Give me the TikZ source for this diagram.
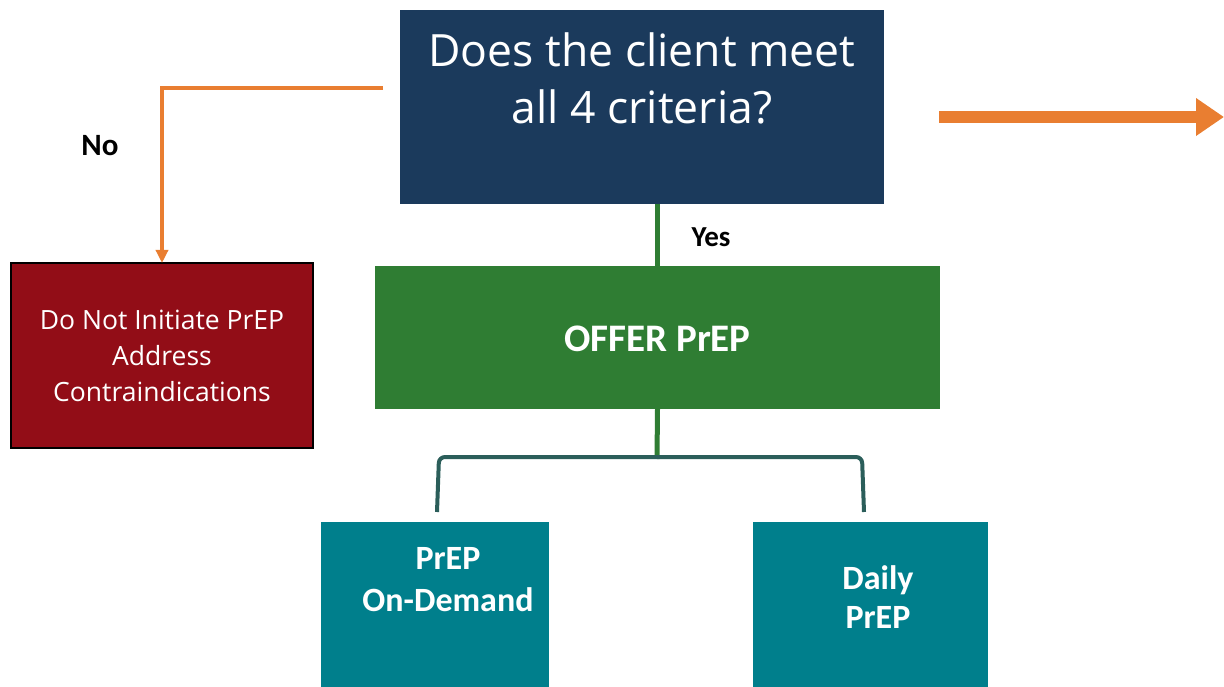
\documentclass[tikz,border=0pt]{standalone}
\usepackage{fontspec}
\setmainfont{Carlito}
\newfontfamily\opensans{Open Sans}
\usetikzlibrary{arrows.meta}
\definecolor{navy}{HTML}{1B3A5C}
\definecolor{orng}{HTML}{E97E31}
\definecolor{darkred}{HTML}{920D17}
\definecolor{grn}{HTML}{2F7D33}
\definecolor{tealbox}{HTML}{007F8C}
\definecolor{brk}{HTML}{2B5E5A}
\begin{document}
\begin{tikzpicture}[x=1pt,y=-1pt,
  boxshape/.style={inner sep=0pt, outer sep=0pt},
  wtext/.style={text=white, align=center, inner sep=0pt},
  lbl/.style={text=black, inner sep=0pt},
  orangeline/.style={draw=orng, line width=3.5pt},
  greenline/.style={draw=grn, line width=5pt},
  bracketline/.style={draw=brk, line width=4pt, rounded corners=6pt}]
\useasboundingbox (0,0) rectangle (1224,687);
\clip (0,0) rectangle (1224,687);
% boxes
\node[boxshape, fill=navy, minimum width=484pt, minimum height=194pt] (q) at (642,107) {};
\node[wtext, font=\opensans\fontsize{44.5}{57}\selectfont] (qt) at (642,78) {Does the client meet\\all 4 criteria?};
\node[boxshape, fill=darkred, draw=black, line width=1.5pt, minimum width=302pt, minimum height=185pt] (r) at (162,355.5) {};
\node[wtext, font=\opensans\fontsize{26.5}{36}\selectfont] (rt) at (162,356) {Do Not Initiate PrEP\\Address\\Contraindications};
\node[boxshape, fill=grn, minimum width=565pt, minimum height=143pt] (g) at (657.5,337.5) {};
\node[wtext, font=\fontsize{39}{42}\selectfont\bfseries] (gt) at (657.5,339) {OFFER PrEP};
\node[boxshape, fill=tealbox, minimum width=228pt, minimum height=200pt] (l) at (435,622) {};
\node[wtext, font=\fontsize{34}{42}\selectfont\bfseries] (lt) at (448,580) {PrEP\\On-Demand};
\node[boxshape, fill=tealbox, minimum width=235pt, minimum height=200pt] (d) at (870.5,622) {};
\node[wtext, font=\fontsize{34}{39}\selectfont\bfseries] (dt) at (878,597) {Daily\\PrEP};
% labels
\node[lbl, font=\fontsize{31}{34}\selectfont\bfseries] (no) at (100,146) {No};
\node[lbl, font=\fontsize{29}{32}\selectfont\bfseries] (yes) at (711,237) {Yes};
% connectors
\coordinate (ostart) at (383,88);
\draw[orangeline, -{Triangle[width=12pt,length=13pt]}] (ostart) -| (r.north);
\draw[greenline] (g.north |- q.south) -- (g.north);
\coordinate (bmid) at (657,459);
\draw[greenline] (g.south) -- (bmid);
\coordinate (bl) at (437,512);
\coordinate (blt) at (439,457);
\coordinate (brt) at (862,457);
\coordinate (br) at (864,512);
\draw[bracketline] (bl) -- (blt) -- (brt) -- (br);
\coordinate (a1) at (939,117);
\coordinate (a2) at (1224,117);
\draw[draw=orng, line width=12pt, -{Triangle[width=36pt,length=28pt]}] (a1) -- (a2);
\end{tikzpicture}
\end{document}
